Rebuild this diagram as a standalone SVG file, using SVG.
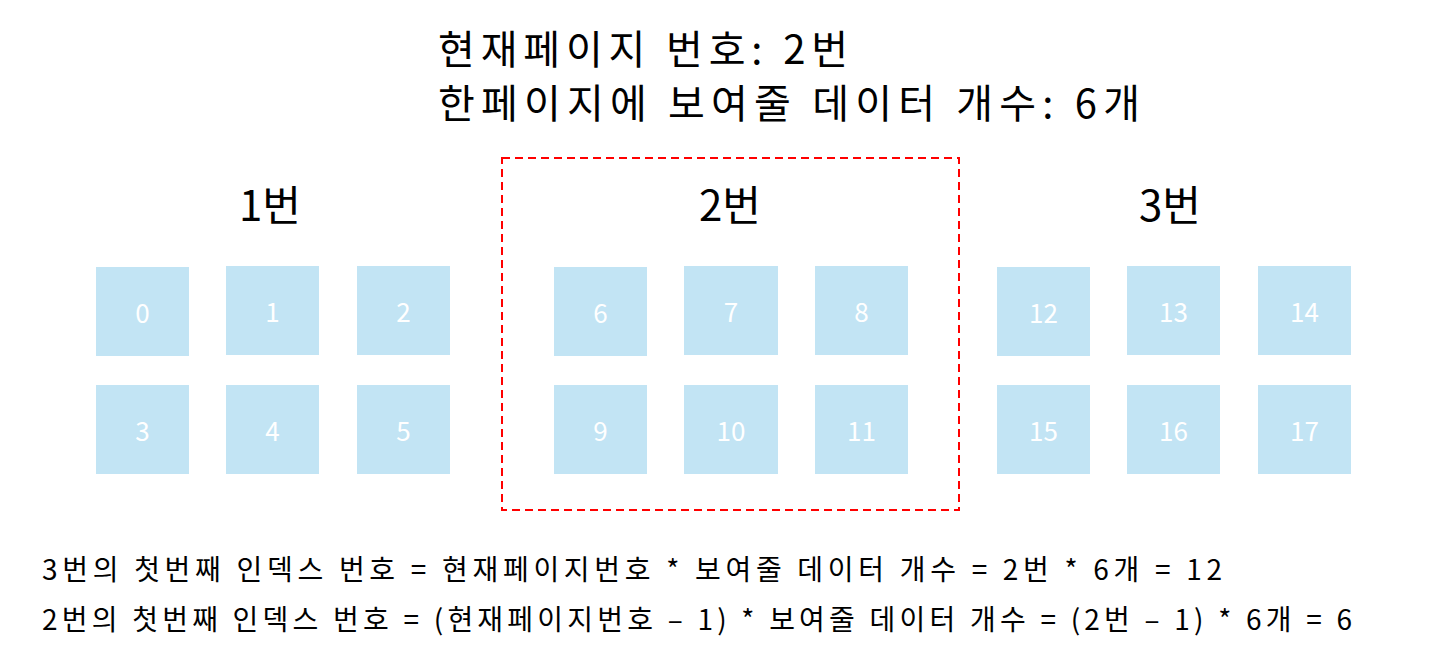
<svg xmlns="http://www.w3.org/2000/svg" width="1448" height="656" viewBox="0 0 1448 656">
<style>
text{font-family:"Noto Sans CJK KR","Noto Sans",sans-serif;}
.box rect{fill:#C2E4F4;}
.box text{fill:#ffffff;font-size:26px;text-anchor:middle;dominant-baseline:central;}
.hdr{font-size:42px;fill:#000;text-anchor:middle;}
.title{font-size:40px;fill:#000;}
.formula{font-size:28px;fill:#000;}
.sel{fill:none;stroke:#FF0000;stroke-width:2;stroke-dasharray:8 5;}
</style>
<rect width="1448" height="656" fill="#ffffff"/>
<g id="title">
<text class="title" x="438" y="64" textLength="410" lengthAdjust="spacing">현재페이지 번호: 2번</text>
<text class="title" x="438" y="118" textLength="702" lengthAdjust="spacing">한페이지에 보여줄 데이터 개수: 6개</text>
</g>
<g id="page2-frame"><rect class="sel" x="502" y="158" width="457" height="352"/></g>
<g id="labels">
<text class="hdr" x="270" y="221">1번</text>
<text class="hdr" x="730" y="221">2번</text>
<text class="hdr" x="1170" y="221">3번</text>
</g>
<g id="n0" class="box"><rect x="96" y="267" width="93" height="89"/><text x="142.5" y="311.5">0</text></g>
<g id="n1" class="box"><rect x="226" y="266" width="93" height="89"/><text x="272.5" y="310.5">1</text></g>
<g id="n2" class="box"><rect x="357" y="266" width="93" height="89"/><text x="403.5" y="310.5">2</text></g>
<g id="n3" class="box"><rect x="96" y="385" width="93" height="89"/><text x="142.5" y="429.5">3</text></g>
<g id="n4" class="box"><rect x="226" y="385" width="93" height="89"/><text x="272.5" y="429.5">4</text></g>
<g id="n5" class="box"><rect x="357" y="385" width="93" height="89"/><text x="403.5" y="429.5">5</text></g>
<g id="n6" class="box"><rect x="554" y="267" width="93" height="89"/><text x="600.5" y="311.5">6</text></g>
<g id="n7" class="box"><rect x="684" y="266" width="94" height="89"/><text x="731" y="310.5">7</text></g>
<g id="n8" class="box"><rect x="815" y="266" width="93" height="89"/><text x="861.5" y="310.5">8</text></g>
<g id="n9" class="box"><rect x="554" y="385" width="93" height="89"/><text x="600.5" y="429.5">9</text></g>
<g id="n10" class="box"><rect x="684" y="385" width="94" height="89"/><text x="731" y="429.5">10</text></g>
<g id="n11" class="box"><rect x="815" y="385" width="93" height="89"/><text x="861.5" y="429.5">11</text></g>
<g id="n12" class="box"><rect x="997" y="267" width="93" height="89"/><text x="1043.5" y="311.5">12</text></g>
<g id="n13" class="box"><rect x="1127" y="266" width="93" height="89"/><text x="1173.5" y="310.5">13</text></g>
<g id="n14" class="box"><rect x="1258" y="266" width="93" height="89"/><text x="1304.5" y="310.5">14</text></g>
<g id="n15" class="box"><rect x="997" y="385" width="93" height="89"/><text x="1043.5" y="429.5">15</text></g>
<g id="n16" class="box"><rect x="1127" y="385" width="93" height="89"/><text x="1173.5" y="429.5">16</text></g>
<g id="n17" class="box"><rect x="1258" y="385" width="93" height="89"/><text x="1304.5" y="429.5">17</text></g>
<g id="formulas">
<text class="formula" x="42" y="580" textLength="1180" lengthAdjust="spacing">3번의 첫번째 인덱스 번호 = 현재페이지번호 * 보여줄 데이터 개수 = 2번 * 6개 = 12</text>
<text class="formula" x="42" y="630" textLength="1310" lengthAdjust="spacing">2번의 첫번째 인덱스 번호 = (현재페이지번호 – 1) * 보여줄 데이터 개수 = (2번 – 1) * 6개 = 6</text>
</g>
</svg>
